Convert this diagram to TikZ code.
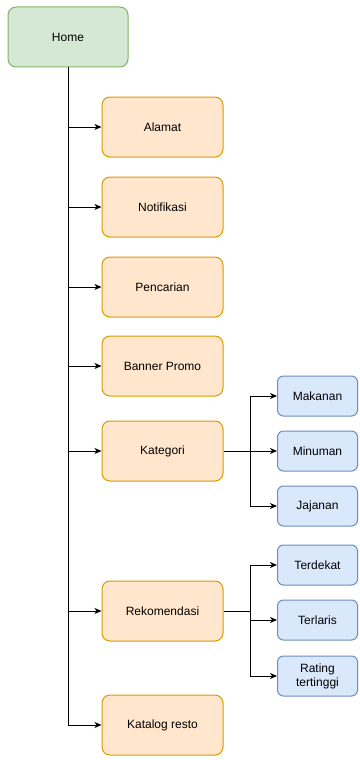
\documentclass[tikz,border=0pt]{standalone}
\usepackage{fontspec}
\setmainfont{Liberation Sans}
\usepackage{xcolor}
\usetikzlibrary{arrows.meta,positioning}
\definecolor{homefill}{HTML}{D5E8D4}
\definecolor{homeline}{HTML}{82B366}
\definecolor{menufill}{HTML}{FFE6CC}
\definecolor{menuline}{HTML}{D79B00}
\definecolor{subfill}{HTML}{DAE8FC}
\definecolor{subline}{HTML}{6C8EBF}
\tikzset{>={Stealth[length=7pt,width=6pt,inset=2pt]}}

\begin{document}
\begin{tikzpicture}[x=1pt,y=-1pt,
                          font=\fontsize{12}{14}\selectfont,
                          home/.style={draw=homeline, fill=homefill, line width=1pt, rounded corners=8pt,
                                       minimum width=120pt, minimum height=60pt, inner sep=0pt},
                          menu/.style={draw=menuline, fill=menufill, line width=1pt, rounded corners=8pt,
                                       minimum width=121pt, minimum height=60pt, inner sep=0pt},
                          sub/.style={draw=subline, fill=subfill, line width=1pt, rounded corners=6pt,
                                      minimum width=80pt, minimum height=40pt, inner sep=0pt, align=center},
                          link/.style={line width=1pt, black, ->},
                         ]

\useasboundingbox (0,0) rectangle (359,760);

\node[home] (home) at (68,37) {Home};

\node[menu] (alamat) at (162.5,127) {Alamat};
\node[menu] (notifikasi) at (162.5,207) {Notifikasi};
\node[menu] (pencarian) at (162.5,287) {Pencarian};
\node[menu] (banner) at (162.5,366) {Banner Promo};
\node[menu] (kategori) at (162.5,451) {Kategori};
\node[menu] (rekomendasi) at (162.5,611) {Rekomendasi};
\node[menu] (katalog) at (162.5,725) {Katalog resto};

\node[sub] (makanan) at (317.5,396) {Makanan};
\node[sub] (minuman) at (317.5,451) {Minuman};
\node[sub] (jajanan) at (317.5,506) {Jajanan};

\node[sub] (terdekat) at (317.5,565) {Terdekat};
\node[sub] (terlaris) at (317.5,620) {Terlaris};
\node[sub] (rating) at (317.5,676) {Rating\\tertinggi};

% home to menu
\foreach \m in {alamat,notifikasi,pencarian,banner,kategori,rekomendasi,katalog}
  \draw[link] (home.south) |- (\m.west);

% kategori branch
\coordinate (kb) at (250,451);
\draw[line width=1pt] (kategori.east) -- (kb);
\foreach \s in {makanan,minuman,jajanan}
  \draw[link] (kb) |- (\s.west);

% rekomendasi branch
\coordinate (rb) at (250,611);
\draw[line width=1pt] (rekomendasi.east) -- (rb);
\foreach \s in {terdekat,terlaris,rating}
  \draw[link] (rb) |- (\s.west);

\end{tikzpicture}
\end{document}
